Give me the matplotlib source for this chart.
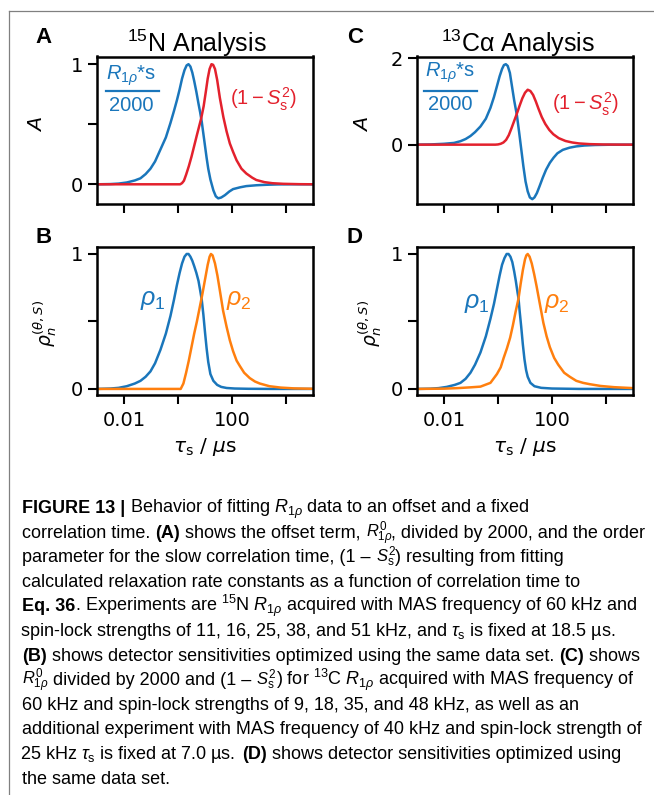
import numpy as np
import matplotlib
matplotlib.use("Agg")
import matplotlib.pyplot as plt
from matplotlib.ticker import NullLocator
from matplotlib.lines import Line2D

# ---------------- data ----------------
# x values given as log10(tau_s / us)
A_r1p_logtau = [-3, -2.5, -2.2, -1.9, -1.6, -1.39, -1.2, -1.02, -0.85, -0.65, -0.45, -0.28, -0.15,
                -0.04, 0.06, 0.15, 0.24, 0.32, 0.39, 0.46, 0.53, 0.6, 0.68, 0.76, 0.82, 0.88, 0.94,
                1.0, 1.06, 1.12, 1.2, 1.31, 1.4, 1.49, 1.6, 1.74, 1.9, 2.04, 2.3, 2.53, 2.9, 3.27,
                3.7, 4.2, 5]
A_r1p = [0.0, 0.002, 0.006, 0.015, 0.032, 0.05, 0.085, 0.13, 0.19, 0.29, 0.39, 0.51, 0.61,
         0.70, 0.79, 0.88, 0.95, 0.99, 1.0, 0.98, 0.93, 0.86, 0.77, 0.67, 0.60, 0.52, 0.42,
         0.32, 0.22, 0.13, 0.04, -0.05, -0.10, -0.117, -0.11, -0.09, -0.06, -0.04, -0.025, -0.015,
         -0.008, -0.004, -0.001, 0.0, 0.0]
A_s2_logtau = [-3, 0.0, 0.08, 0.15, 0.22, 0.3, 0.4, 0.5, 0.6, 0.7, 0.78, 0.86, 0.95, 1.03, 1.1,
               1.17, 1.24, 1.3, 1.37, 1.45, 1.55, 1.68, 1.8, 1.92, 2.04, 2.17, 2.35, 2.53, 2.75,
               2.9, 3.2, 3.5, 3.9, 4.5, 5]
A_s2 = [0.0, 0.0, 0.0, 0.01, 0.03, 0.08, 0.15, 0.23, 0.32, 0.41, 0.48, 0.55, 0.65, 0.77, 0.88,
        0.96, 1.0, 0.995, 0.96, 0.87, 0.72, 0.56, 0.44, 0.34, 0.27, 0.2, 0.13, 0.09, 0.055,
        0.036, 0.018, 0.009, 0.004, 0.001, 0.0]

C_r1p_logtau = [-3, -2.5, -2.0, -1.63, -1.39, -1.2, -1.02, -0.85, -0.65, -0.45, -0.28, -0.15,
                -0.04, 0.06, 0.15, 0.22, 0.29, 0.36, 0.44, 0.52, 0.6, 0.7, 0.78, 0.86, 0.94,
                1.02, 1.1, 1.18, 1.27, 1.35, 1.44, 1.54, 1.66, 1.78, 1.92, 2.06, 2.2, 2.4, 2.65,
                2.9, 3.2, 3.6, 4.1, 5]
C_r1p = [0.0, 0.005, 0.02, 0.04, 0.08, 0.13, 0.2, 0.29, 0.42, 0.6, 0.85, 1.1, 1.35, 1.58,
         1.75, 1.84, 1.86, 1.82, 1.66, 1.34, 1.02, 0.68, 0.3, -0.1, -0.5, -0.85, -1.08, -1.22,
         -1.26, -1.22, -1.12, -0.96, -0.76, -0.58, -0.42, -0.3, -0.2, -0.12, -0.07, -0.04,
         -0.02, -0.008, -0.002, 0.0]
C_s2_logtau = [-3, -0.1, 0.0, 0.1, 0.2, 0.3, 0.4, 0.5, 0.6, 0.7, 0.8, 0.9, 1.0, 1.1, 1.2, 1.3,
               1.4, 1.5, 1.62, 1.75, 1.9, 2.05, 2.25, 2.5, 2.75, 3.0, 3.4, 3.9, 4.5, 5]
C_s2 = [0.0, 0.0, 0.005, 0.02, 0.05, 0.11, 0.22, 0.38, 0.55, 0.72, 0.9, 1.07, 1.2, 1.27, 1.24,
        1.15, 1.0, 0.83, 0.64, 0.48, 0.34, 0.24, 0.15, 0.085, 0.05, 0.028, 0.012, 0.004, 0.001, 0.0]

B_rho1_logtau = [-3, -2.5, -2.2, -1.9, -1.6, -1.39, -1.2, -1.02, -0.85, -0.65, -0.45, -0.28,
                 -0.15, -0.04, 0.06, 0.15, 0.24, 0.32, 0.39, 0.46, 0.53, 0.6, 0.68, 0.76, 0.83,
                 0.88, 0.94, 1.0, 1.06, 1.12, 1.2, 1.31, 1.45, 1.6, 1.8, 2.1, 2.6, 3.5, 5]
B_rho1 = [0.0, 0.003, 0.008, 0.02, 0.04, 0.06, 0.09, 0.13, 0.19, 0.29, 0.41, 0.54, 0.66, 0.77,
          0.86, 0.93, 0.98, 1.0, 1.0, 0.98, 0.95, 0.91, 0.86, 0.8, 0.72, 0.66, 0.55, 0.42, 0.3,
          0.2, 0.11, 0.06, 0.03, 0.015, 0.007, 0.003, 0.001, 0.0, 0.0]
B_rho2_logtau = [-3, 0.0, 0.1, 0.2, 0.3, 0.4, 0.5, 0.6, 0.7, 0.8, 0.9, 1.0, 1.1, 1.17, 1.22,
                 1.28, 1.37, 1.46, 1.55, 1.67, 1.8, 1.92, 2.04, 2.17, 2.29, 2.45, 2.66, 2.85,
                 3.03, 3.39, 3.8, 4.3, 5]
B_rho2 = [0.0, 0.0, 0.0, 0.04, 0.12, 0.21, 0.31, 0.41, 0.5, 0.6, 0.7, 0.81, 0.92, 0.98, 1.0,
          0.99, 0.93, 0.84, 0.73, 0.58, 0.46, 0.36, 0.28, 0.21, 0.17, 0.12, 0.08, 0.055, 0.04,
          0.02, 0.01, 0.004, 0.001]

D_rho1_logtau = [-3, -2.5, -2.2, -1.9, -1.6, -1.39, -1.2, -1.02, -0.85, -0.65, -0.45, -0.28,
                 -0.15, -0.04, 0.06, 0.15, 0.24, 0.32, 0.39, 0.46, 0.53, 0.6, 0.66, 0.72, 0.76,
                 0.8, 0.86, 0.92, 0.98, 1.04, 1.1, 1.2, 1.35, 1.6, 2.0, 3.0, 5]
D_rho1 = [0.0, 0.002, 0.006, 0.015, 0.03, 0.045, 0.075, 0.12, 0.18, 0.27, 0.39, 0.52, 0.63,
          0.74, 0.84, 0.92, 0.97, 1.0, 1.0, 0.98, 0.94, 0.87, 0.8, 0.72, 0.67, 0.58, 0.46, 0.33,
          0.22, 0.14, 0.09, 0.045, 0.02, 0.008, 0.003, 0.0, 0.0]
D_rho2_logtau = [-3, -2, -1.5, -1.0, -0.65, -0.28, -0.04, 0.1, 0.21, 0.33, 0.45, 0.55, 0.65,
                 0.76, 0.84, 0.92, 1.0, 1.05, 1.1, 1.17, 1.25, 1.34, 1.43, 1.55, 1.68, 1.8,
                 1.92, 2.08, 2.23, 2.45, 2.66, 2.9, 3.15, 3.4, 3.8, 4.3, 5]
D_rho2 = [0.0, 0.002, 0.006, 0.012, 0.017, 0.045, 0.11, 0.16, 0.23, 0.3, 0.38, 0.47, 0.57,
          0.67, 0.78, 0.88, 0.96, 0.99, 1.0, 0.98, 0.93, 0.85, 0.76, 0.63, 0.49, 0.39, 0.31,
          0.23, 0.18, 0.12, 0.09, 0.06, 0.045, 0.035, 0.022, 0.013, 0.006]

xtick_values = [1e-2, 1, 1e2, 1e4]
xtick_labels = ["0.01", "", "100", ""]

caption_lines = [
    [("FIGURE 13 |", "bold"), (" Behavior of fitting $R_{1\\rho}$ data to an offset and a fixed", "normal")],
    [("correlation time. ", "normal"), ("(A)", "bold"), (" shows the offset term, ", "normal"),
     ("$R^0_{1\\rho}$", "normal"), (", divided by 2000, and the order", "normal")],
    [("parameter for the slow correlation time, (1 – ", "normal"), ("$S^2_{\\rm s}$", "normal"),
     (") resulting from fitting", "normal")],
    [("calculated relaxation rate constants as a function of correlation time to", "normal")],
    [("Eq. 36", "bold"), (". Experiments are $^{15}$N $R_{1\\rho}$ acquired with MAS frequency of 60 kHz and", "normal")],
    [("spin-lock strengths of 11, 16, 25, 38, and 51 kHz, and $\\tau_{\\rm s}$ is fixed at 18.5 µs.", "normal")],
    [("(B)", "bold"), (" shows detector sensitivities optimized using the same data set. ", "normal"),
     ("(C)", "bold"), (" shows", "normal")],
    [("$R^0_{1\\rho}$", "normal"), (" divided by 2000 and (1 – ", "normal"), ("$S^2_{\\rm s}$", "normal"),
     (") for $^{13}$C $R_{1\\rho}$ acquired with MAS frequency of", "normal")],
    [("60 kHz and spin-lock strengths of 9, 18, 35, and 48 kHz, as well as an", "normal")],
    [("additional experiment with MAS frequency of 40 kHz and spin-lock strength of", "normal")],
    [("25 kHz $\\tau_{\\rm s}$ is fixed at 7.0 µs. ", "normal"), ("(D)", "bold"),
     (" shows detector sensitivities optimized using", "normal")],
    [("the same data set.", "normal")],
]

# ---------------- style ----------------
BLUE = "#1a76bb"
RED = "#e3212d"
ORANGE = "#ff7f0e"
SANS = "Liberation Sans"
plt.rcParams["font.family"] = ["DejaVu Sans"]
plt.rcParams["mathtext.fontset"] = "custom"
plt.rcParams["mathtext.rm"] = SANS
plt.rcParams["mathtext.it"] = SANS + ":italic"
plt.rcParams["mathtext.bf"] = SANS + ":bold"

W, H = 654, 795
fig = plt.figure(figsize=(W / 100, H / 100), dpi=100)
fig.patch.set_facecolor("white")


def fx(x):
    return x / W


def fy(y):
    return 1 - y / H


def make_ax(x0, y0, x1, y1):
    return fig.add_axes([fx(x0), fy(y1), (x1 - x0) / W, (y1 - y0) / H])


axA = make_ax(97, 56.5, 313, 204)
axC = make_ax(417, 56.5, 633, 204)
axB = make_ax(97, 246.7, 313, 395)
axD = make_ax(417, 246.7, 633, 395)

for ax in (axA, axB, axC, axD):
    ax.set_xscale("log")
    ax.set_xlim(1e-3, 1e5)
    ax.set_xticks(xtick_values)
    ax.xaxis.set_minor_locator(NullLocator())
    for s in ax.spines.values():
        s.set_linewidth(1.8)
    ax.tick_params(length=6.5, width=1.5, labelsize=14, pad=3.5)
    ax.tick_params(axis="x", pad=5)

for ax in (axA, axC):
    ax.set_xticklabels([])
for ax in (axB, axD):
    ax.set_xticklabels(xtick_labels)
    ax.set_xlabel(r"$\tau_{\rm s}$ / $\mu$s", fontsize=14.5, labelpad=4, math_fontfamily="dejavusans")


def lg(v):
    return 10 ** np.asarray(v, dtype=float)


LW = 1.8
axA.plot(lg(A_r1p_logtau), A_r1p, color=BLUE, lw=LW)
axA.plot(lg(A_s2_logtau), A_s2, color=RED, lw=LW)
axC.plot(lg(C_r1p_logtau), C_r1p, color=BLUE, lw=LW)
axC.plot(lg(C_s2_logtau), C_s2, color=RED, lw=LW)
axB.plot(lg(B_rho1_logtau), B_rho1, color=BLUE, lw=LW)
axB.plot(lg(B_rho2_logtau), B_rho2, color=ORANGE, lw=LW)
axD.plot(lg(D_rho1_logtau), D_rho1, color=BLUE, lw=LW)
axD.plot(lg(D_rho2_logtau), D_rho2, color=ORANGE, lw=LW)

axA.set_ylim(-0.164, 1.064)
axA.set_yticks([0, 0.5, 1])
axA.set_yticklabels(["0", "", "1"])
axC.set_ylim(-1.372, 2.038)
axC.set_yticks([0, 2])
axC.set_yticklabels(["0", "2"])
for ax in (axB, axD):
    ax.set_ylim(-0.045, 1.054)
    ax.set_yticks([0, 0.5, 1])
    ax.set_yticklabels(["0", "", "1"])

# titles
fig.text(fx(196.5), fy(52), r"$^{15}$N Analysis", fontsize=18, family=SANS, ha="center", va="baseline")
fig.text(fx(518), fy(52), r"$^{13}$Cα Analysis", fontsize=18, family=SANS, ha="center", va="baseline")

# panel letters
for lab, x, y in (("A", 43.5, 37.5), ("C", 355, 37.5), ("B", 43.5, 237.5), ("D", 355, 237.5)):
    fig.text(fx(x), fy(y), lab, fontsize=16, fontweight="bold", family=SANS, ha="center", va="center")

# y labels
fig.text(fx(37.5), fy(125), "A", fontsize=15, style="italic", family=SANS, rotation=90, ha="center", va="center")
fig.text(fx(363.5), fy(125), "A", fontsize=15, style="italic", family=SANS, rotation=90, ha="center", va="center")
for x in (45, 370):
    fig.text(fx(x), fy(323), r"$\rho_n^{(\theta,S)}$", fontsize=13.5, rotation=90, ha="center", va="center",
             math_fontfamily="dejavusans")

# in-panel annotations
for xc, ytop, x0, x1, ybot in ((131.5, 76, 106, 159, 105.5), (450, 73, 424, 477, 105)):
    fig.text(fx(xc), fy(ytop), r"$R_{1\rho}$*s", fontsize=14.5, family=SANS, color=BLUE, ha="center", va="center")
    fig.add_artist(Line2D([fx(x0), fx(x1)], [fy(91), fy(91)], color=BLUE, lw=1.6))
    fig.text(fx(xc), fy(ybot), "2000", fontsize=14.5, family=SANS, color=BLUE, ha="center", va="center")
fig.text(fx(263.5), fy(99), r"$(1-S^2_{\rm s})$", fontsize=14.5, color=RED, ha="center", va="center")
fig.text(fx(585), fy(104), r"$(1-S^2_{\rm s})$", fontsize=14.5, color=RED, ha="center", va="center")

for (x, y, txt, col) in ((153, 300, r"$\rho_1$", BLUE), (239, 300, r"$\rho_2$", ORANGE),
                         (477, 303, r"$\rho_1$", BLUE), (557, 303, r"$\rho_2$", ORANGE)):
    fig.text(fx(x), fy(y), txt, fontsize=18, color=col, ha="center", va="center")

# frame lines
fig.add_artist(Line2D([fx(9), fx(654)], [fy(10.7), fy(10.7)], color="#808080", lw=0.9))
fig.add_artist(Line2D([fx(9), fx(9)], [fy(10.7), fy(795)], color="#808080", lw=0.9))

# ---------------- caption ----------------
fig.canvas.draw()
rend = fig.canvas.get_renderer()


def seg_width(s, fs, wt):
    t1 = fig.text(0, 0, s + "I", fontsize=fs, fontweight=wt, family=SANS)
    t2 = fig.text(0, 0, "I", fontsize=fs, fontweight=wt, family=SANS)
    w = t1.get_window_extent(rend).width - t2.get_window_extent(rend).width
    t1.remove()
    t2.remove()
    return w


def seg_size(s, base):
    # standalone math symbols are set marginally smaller so stacked sub/superscripts stay clear
    return base * 0.92 if (s.startswith("$") and s.endswith("$")) else base


def line_width(segs, fs):
    return sum(seg_width(s, seg_size(s, fs), wt) for s, wt in segs)


fs0 = 12.0
cap_fs = fs0 * 619.0 / line_width(caption_lines[9], fs0)

x_start = 22
base0 = 513
step = 24.6
for i, segs in enumerate(caption_lines):
    x = x_start
    y = base0 + i * step
    for j, (s, wt) in enumerate(segs):
        fs = seg_size(s, cap_fs)
        dx = -2 if (j == 0 and "$" in s and not s.startswith("$")) else 0
        fig.text(fx(x + dx), fy(y), s, fontsize=fs, fontweight=wt, family=SANS, ha="left", va="baseline")
        x += seg_width(s, fs, wt)

fig.savefig("out.png", dpi=100, facecolor="white")
